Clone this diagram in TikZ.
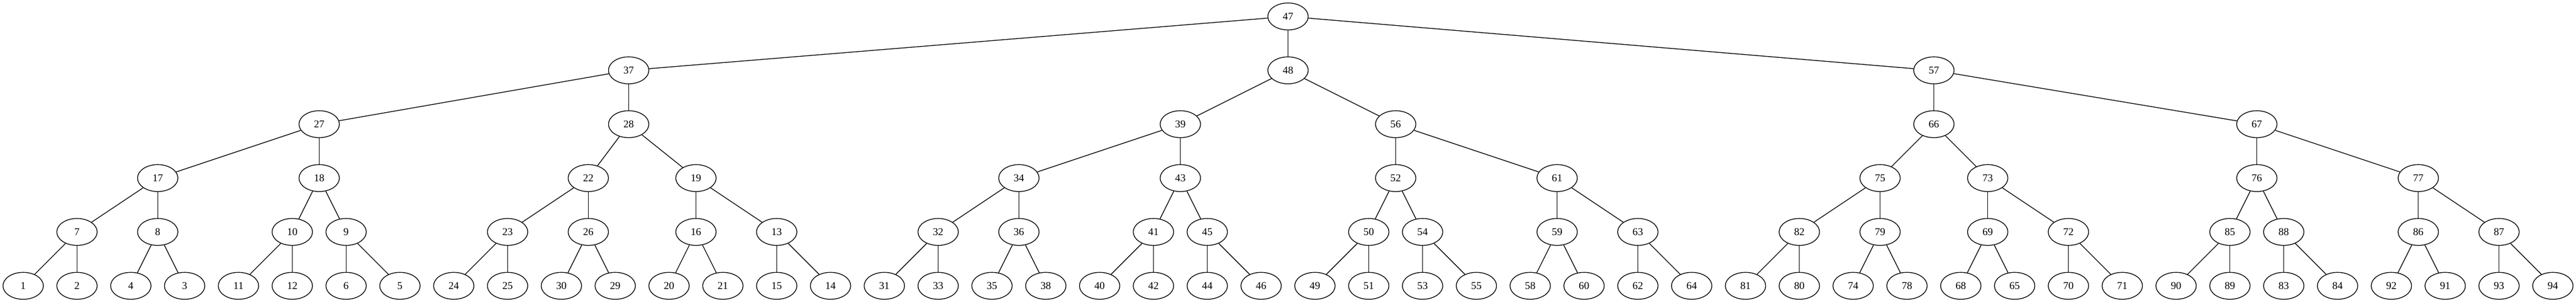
\documentclass[tikz,border=0pt]{standalone}
\usepackage{fontspec}
\setmainfont{Liberation Serif}
\usetikzlibrary{shapes.geometric}
\tikzset{
  tn/.style={draw, ellipse, minimum width=54pt, minimum height=36pt, inner sep=0pt,
    line width=1pt, font=\fontsize{14}{16}\selectfont},
  te/.style={line width=1pt}
}
\newcommand\nd[3]{\node[tn] (n#1) at ({31+72*#2},{-22-72*#3}) {#1};}
\begin{document}
\begin{tikzpicture}[x=1pt,y=1pt]
\useasboundingbox (0,0) rectangle (3446,-404.25);
% level 0
\nd{47}{23.5}{0}
% level 1
\nd{37}{11.25}{1}
\nd{48}{23.5}{1}
\nd{57}{35.5}{1}
% level 2
\nd{27}{5.5}{2}
\nd{28}{11.25}{2}
\nd{39}{21.5}{2}
\nd{56}{25.5}{2}
\nd{66}{35.5}{2}
\nd{67}{41.5}{2}
% level 3
\nd{17}{2.5}{3}
\nd{18}{5.5}{3}
\nd{22}{10.5}{3}
\nd{19}{12.5}{3}
\nd{34}{18.5}{3}
\nd{43}{21.5}{3}
\nd{52}{25.5}{3}
\nd{61}{28.5}{3}
\nd{75}{34.5}{3}
\nd{73}{36.5}{3}
\nd{76}{41.5}{3}
\nd{77}{44.5}{3}
% level 4
\nd{7}{1}{4}
\nd{8}{2.5}{4}
\nd{10}{5}{4}
\nd{9}{6}{4}
\nd{23}{9}{4}
\nd{26}{10.5}{4}
\nd{16}{12.5}{4}
\nd{13}{14}{4}
\nd{32}{17}{4}
\nd{36}{18.5}{4}
\nd{41}{21}{4}
\nd{45}{22}{4}
\nd{50}{25}{4}
\nd{54}{26}{4}
\nd{59}{28.5}{4}
\nd{63}{30}{4}
\nd{82}{33}{4}
\nd{79}{34.5}{4}
\nd{69}{36.5}{4}
\nd{72}{38}{4}
\nd{85}{41}{4}
\nd{88}{42}{4}
\nd{86}{44.5}{4}
\nd{87}{46}{4}
% level 5 (leaves)
\foreach \lab [count=\i from 0] in {1,2,4,3,11,12,6,5,24,25,30,29,20,21,15,14,31,33,35,38,40,42,44,46,49,51,53,55,58,60,62,64,81,80,74,78,68,65,70,71,90,89,83,84,92,91,93,94}
  {\nd{\lab}{\i}{5}}
% edges
\foreach \a/\b in {47/37,47/48,47/57,
  37/27,37/28,27/17,27/18,17/7,17/8,7/1,7/2,8/4,8/3,18/10,18/9,10/11,10/12,9/6,9/5,
  28/22,28/19,22/23,22/26,23/24,23/25,26/30,26/29,19/16,19/13,16/20,16/21,13/15,13/14,
  48/39,48/56,39/34,39/43,34/32,34/36,32/31,32/33,36/35,36/38,43/41,43/45,41/40,41/42,45/44,45/46,
  56/52,56/61,52/50,52/54,50/49,50/51,54/53,54/55,61/59,61/63,59/58,59/60,63/62,63/64,
  57/66,57/67,66/75,66/73,75/82,75/79,82/81,82/80,79/74,79/78,73/69,73/72,69/68,69/65,72/70,72/71,
  67/76,67/77,76/85,76/88,85/90,85/89,88/83,88/84,77/86,77/87,86/92,86/91,87/93,87/94}
  {\draw[te] (n\a) -- (n\b);}
\end{tikzpicture}
\end{document}
